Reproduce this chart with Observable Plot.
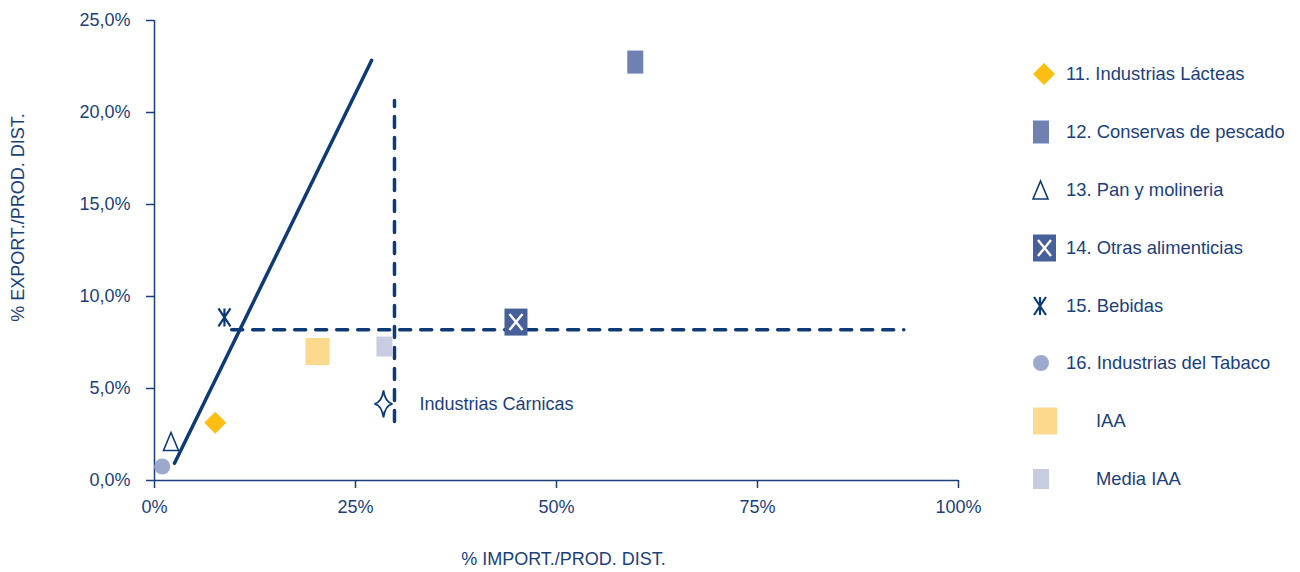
<!DOCTYPE html>
<html><head><meta charset="utf-8">
<script src="https://cdn.jsdelivr.net/npm/d3@7"></script>
<script src="https://cdn.jsdelivr.net/npm/@observablehq/plot@0.6"></script>
<style>
body{margin:0;background:#fff;font-family:"Liberation Sans",Arial,sans-serif;}
#wrap{position:relative;width:1300px;height:572px;overflow:hidden;}
#chart{position:absolute;left:0;top:0;}
#legend{position:absolute;left:1032px;top:45px;}
.row{height:57.9px;display:flex;align-items:center;color:#1B3F7B;font-size:18.4px;white-space:nowrap;}
.row svg{flex:none;}
</style></head><body><div id="wrap"><div id="chart"></div><div id="legend"></div></div>
<script>
// ---- data ----
const names = ["11. Industrias Lácteas","12. Conservas de pescado","13. Pan y molineria","14. Otras alimenticias","15. Bebidas","16. Industrias del Tabaco","IAA","Media IAA"];
const importPct = [7.55, 59.8, 2.05, 44.96, 8.7, 0.96, 20.27, 28.6];
const exportPct = [3.14, 22.74, 2.12, 8.61, 8.86, 0.76, 7.01, 7.28];
const carnicasName = ["Industrias Cárnicas"];
const carnicasImport = [28.48];
const carnicasExport = [4.16];
const trendImport = [2.49, 27.0];
const trendExport = [0.94, 22.83];
const hLineImport = [9.6, 93.2];
const hLineExport = [8.19, 8.19];
const vLineImport = [29.85, 29.85];
const vLineExport = [3.2, 20.65];
const xTicks = [0, 25, 50, 75, 100];
const yTicks = [0, 5, 10, 15, 20, 25];
const xLabel = "% IMPORT./PROD. DIST.";
const yLabel = "% EXPORT./PROD. DIST.";

// ---- styles ----
const navy = "#0E3A75";
const textColor = "#1B3F7B";
const sym = {
  rect: (w, h) => ({draw(c){ c.moveTo(-w/2,-h/2); c.lineTo(w/2,-h/2); c.lineTo(w/2,h/2); c.lineTo(-w/2,h/2); c.closePath(); }}),
  diamond: {draw(c){ c.moveTo(0,-11); c.lineTo(11,0); c.lineTo(0,11); c.lineTo(-11,0); c.closePath(); }},
  triangle: {draw(c){ c.moveTo(0,-9); c.lineTo(7.5,9); c.lineTo(-7.5,9); c.closePath(); }},
  xmark: {draw(c){ c.moveTo(-6.5,-8); c.lineTo(6.5,8); c.moveTo(6.5,-8); c.lineTo(-6.5,8); }},
  bebidas: {draw(c){ c.moveTo(-6,-9); c.lineTo(6,9); c.moveTo(6,-9); c.lineTo(-6,9); c.moveTo(0,-9); c.lineTo(0,9); }},
  circle: {draw(c){ c.moveTo(8,0); c.arc(0,0,8,0,2*Math.PI); }},
  star: {draw(c){ c.moveTo(0,-13.5); c.quadraticCurveTo(1.6,-1.6,9,0); c.quadraticCurveTo(1.6,1.6,0,13.5); c.quadraticCurveTo(-1.6,1.6,-9,0); c.quadraticCurveTo(-1.6,-1.6,0,-13.5); c.closePath(); }}
};
// layers per series: [symbol, fill, stroke, strokeWidth], plus legend half-width
const layers = [
  {w: 11, parts: [[sym.diamond, "#FDBE14", "none", 0]]},
  {w: 8, parts: [[sym.rect(16,23), "#6F80B1", "none", 0]]},
  {w: 7.5, parts: [[sym.triangle, "white", navy, 1.6]]},
  {w: 11.5, parts: [[sym.rect(23,27), "#46609A", "none", 0], [sym.xmark, "none", "white", 2.4]]},
  {w: 7, parts: [[sym.bebidas, "none", navy, 2.2]]},
  {w: 8, parts: [[sym.circle, "#9CA8CC", "none", 0]]},
  {w: 12, parts: [[sym.rect(24,27), "#FDD98E", "none", 0]]},
  {w: 8, parts: [[sym.rect(16,20), "#C7CCE2", "none", 0]]}
];

const idx = d3.range(names.length);
const dotMarks = [];
idx.forEach(i => {
  layers[i].parts.forEach(([s, fill, stroke, sw]) => {
    dotMarks.push(Plot.dot([i], {x: j => importPct[j], y: j => exportPct[j], symbol: s, fill, stroke, strokeWidth: sw}));
  });
});

const chart = Plot.plot({
  width: 1010, height: 572,
  marginLeft: 154, marginRight: 52, marginTop: 20, marginBottom: 92,
  x: {domain: [0, 100]},
  y: {domain: [0, 25]},
  style: {fontFamily: '"Liberation Sans", Arial, sans-serif', fontSize: "18px", color: textColor, background: "white"},
  marks: [
    Plot.ruleX([0], {stroke: textColor, strokeWidth: 1.5}),
    Plot.ruleY([0], {stroke: textColor, strokeWidth: 1.5}),
    Plot.axisX({ticks: xTicks, tickSize: 8, tickPadding: 12, tickFormat: d => d + "%", fontSize: 18, label: null, strokeWidth: 1.5}),
    Plot.axisY({ticks: yTicks, tickSize: 8, tickPadding: 16, tickFormat: d => d.toFixed(1).replace(".", ",") + "%", fontSize: 18, label: null, strokeWidth: 1.5}),
    Plot.text([xLabel], {frameAnchor: "bottom", dx: 7, dy: 84, fontSize: 18, fill: textColor}),
    Plot.text([yLabel], {frameAnchor: "left", textAnchor: "middle", dx: -136, dy: -33, rotate: -90, fontSize: 18, fill: textColor}),
    Plot.line([0, 1], {x: i => trendImport[i], y: i => trendExport[i], stroke: navy, strokeWidth: 3.5}),
    Plot.line([0, 1], {x: i => hLineImport[i], y: i => hLineExport[i], stroke: navy, strokeWidth: 3.5, strokeDasharray: "11,10"}),
    Plot.line([0, 1], {x: i => vLineImport[i], y: i => vLineExport[i], stroke: navy, strokeWidth: 3.5, strokeDasharray: "11,10"}),
    ...dotMarks,
    Plot.dot([0], {x: i => carnicasImport[i], y: i => carnicasExport[i], symbol: sym.star, fill: "white", stroke: navy, strokeWidth: 1.8}),
    Plot.text([0], {x: i => carnicasImport[i], y: i => carnicasExport[i], text: i => carnicasName[i], dx: 36, textAnchor: "start", fontSize: 18, fill: textColor})
  ]
});
document.getElementById("chart").appendChild(chart);

// ---- legend ----
const legend = d3.select("#legend");
idx.forEach(i => {
  const row = legend.append("div").attr("class", "row");
  const svg = row.append("svg").attr("width", 34).attr("height", 30);
  const g = svg.append("g").attr("transform", `translate(${1 + layers[i].w},15)`);
  layers[i].parts.forEach(([s, fill, stroke, sw]) => {
    const p = d3.path(); s.draw(p);
    g.append("path").attr("d", p.toString()).attr("fill", fill).attr("stroke", stroke).attr("stroke-width", sw);
  });
  row.append("span").style("margin-left", i >= 6 ? "30px" : "0px").text(names[i]);
});
</script></body></html>
